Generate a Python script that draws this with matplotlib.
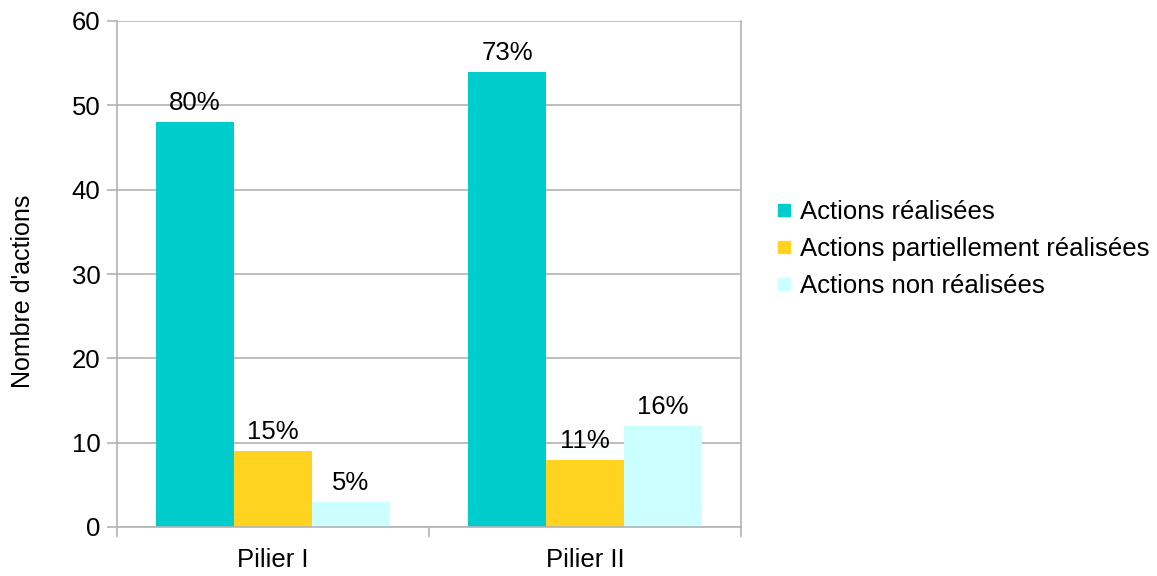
import matplotlib
matplotlib.use('Agg')
import matplotlib.pyplot as plt
from matplotlib.lines import Line2D
import numpy as np

# données du graphique
categories = ['Pilier I', 'Pilier II']
series_names = ['Actions réalisées', 'Actions partiellement réalisées', 'Actions non réalisées']
realisees = [48, 54]
partielles = [9, 8]
non_realisees = [3, 12]
pct_realisees = ['80%', '73%']
pct_partielles = ['15%', '11%']
pct_non = ['5%', '16%']

colors = ['#00CCCC', '#FFD320', '#CCFFFF']

plt.rcParams['font.family'] = ['Liberation Sans', 'DejaVu Sans']
fs = 18.5

fig = plt.figure(figsize=(11.57, 5.76), dpi=100)
ax = fig.add_axes([117 / 1157, 1 - 527 / 576, 624 / 1157, 506 / 576])

x = np.arange(len(categories))
w = 0.25
series = [realisees, partielles, non_realisees]
labels = [pct_realisees, pct_partielles, pct_non]
for i, (vals, lab) in enumerate(zip(series, labels)):
    pos = x + (i - 1) * w
    ax.bar(pos, vals, width=w, color=colors[i], zorder=2)
    for p, v, t in zip(pos, vals, lab):
        ax.annotate(t, (p, v), xytext=(0, 5), textcoords='offset points',
                    ha='center', va='bottom', fontsize=fs)

ax.set_xlim(-0.5, 1.5)
ax.set_ylim(0, 60)
ax.set_yticks(range(0, 61, 10))
ax.yaxis.grid(True, color='#b3b3b3', linewidth=1.2, zorder=0)
ax.set_axisbelow(True)

# ticks aux limites des catégories, étiquettes au centre
ax.set_xticks([-0.5, 0.5, 1.5])
ax.set_xticklabels([])
ax.set_xticks(x, minor=True)
ax.set_xticklabels(categories, minor=True, fontsize=fs)
ax.tick_params(axis='x', which='minor', length=0, pad=15)
ax.tick_params(axis='x', which='major', length=7, color='#b3b3b3', width=1.2)
ax.tick_params(axis='y', length=7, color='#b3b3b3', width=1.2, labelsize=fs, pad=5)

for s in ['left', 'right', 'bottom']:
    ax.spines[s].set_color('#b3b3b3')
    ax.spines[s].set_linewidth(1.2)
ax.spines['top'].set_visible(False)

ax.set_ylabel("Nombre d'actions", fontsize=18)
ax.yaxis.set_label_coords(-0.131, 0.466)

handles = [Line2D([], [], marker='s', linestyle='', markersize=9,
                  markerfacecolor=c, markeredgecolor=c) for c in colors]
fig.legend(handles, series_names, loc='center left', bbox_to_anchor=(758 / 1157, 1 - 249 / 576),
           frameon=False, fontsize=fs, handletextpad=0.05, labelspacing=0.5,
           handlelength=1.2, borderaxespad=0)

fig.savefig('out.png', dpi=100)
